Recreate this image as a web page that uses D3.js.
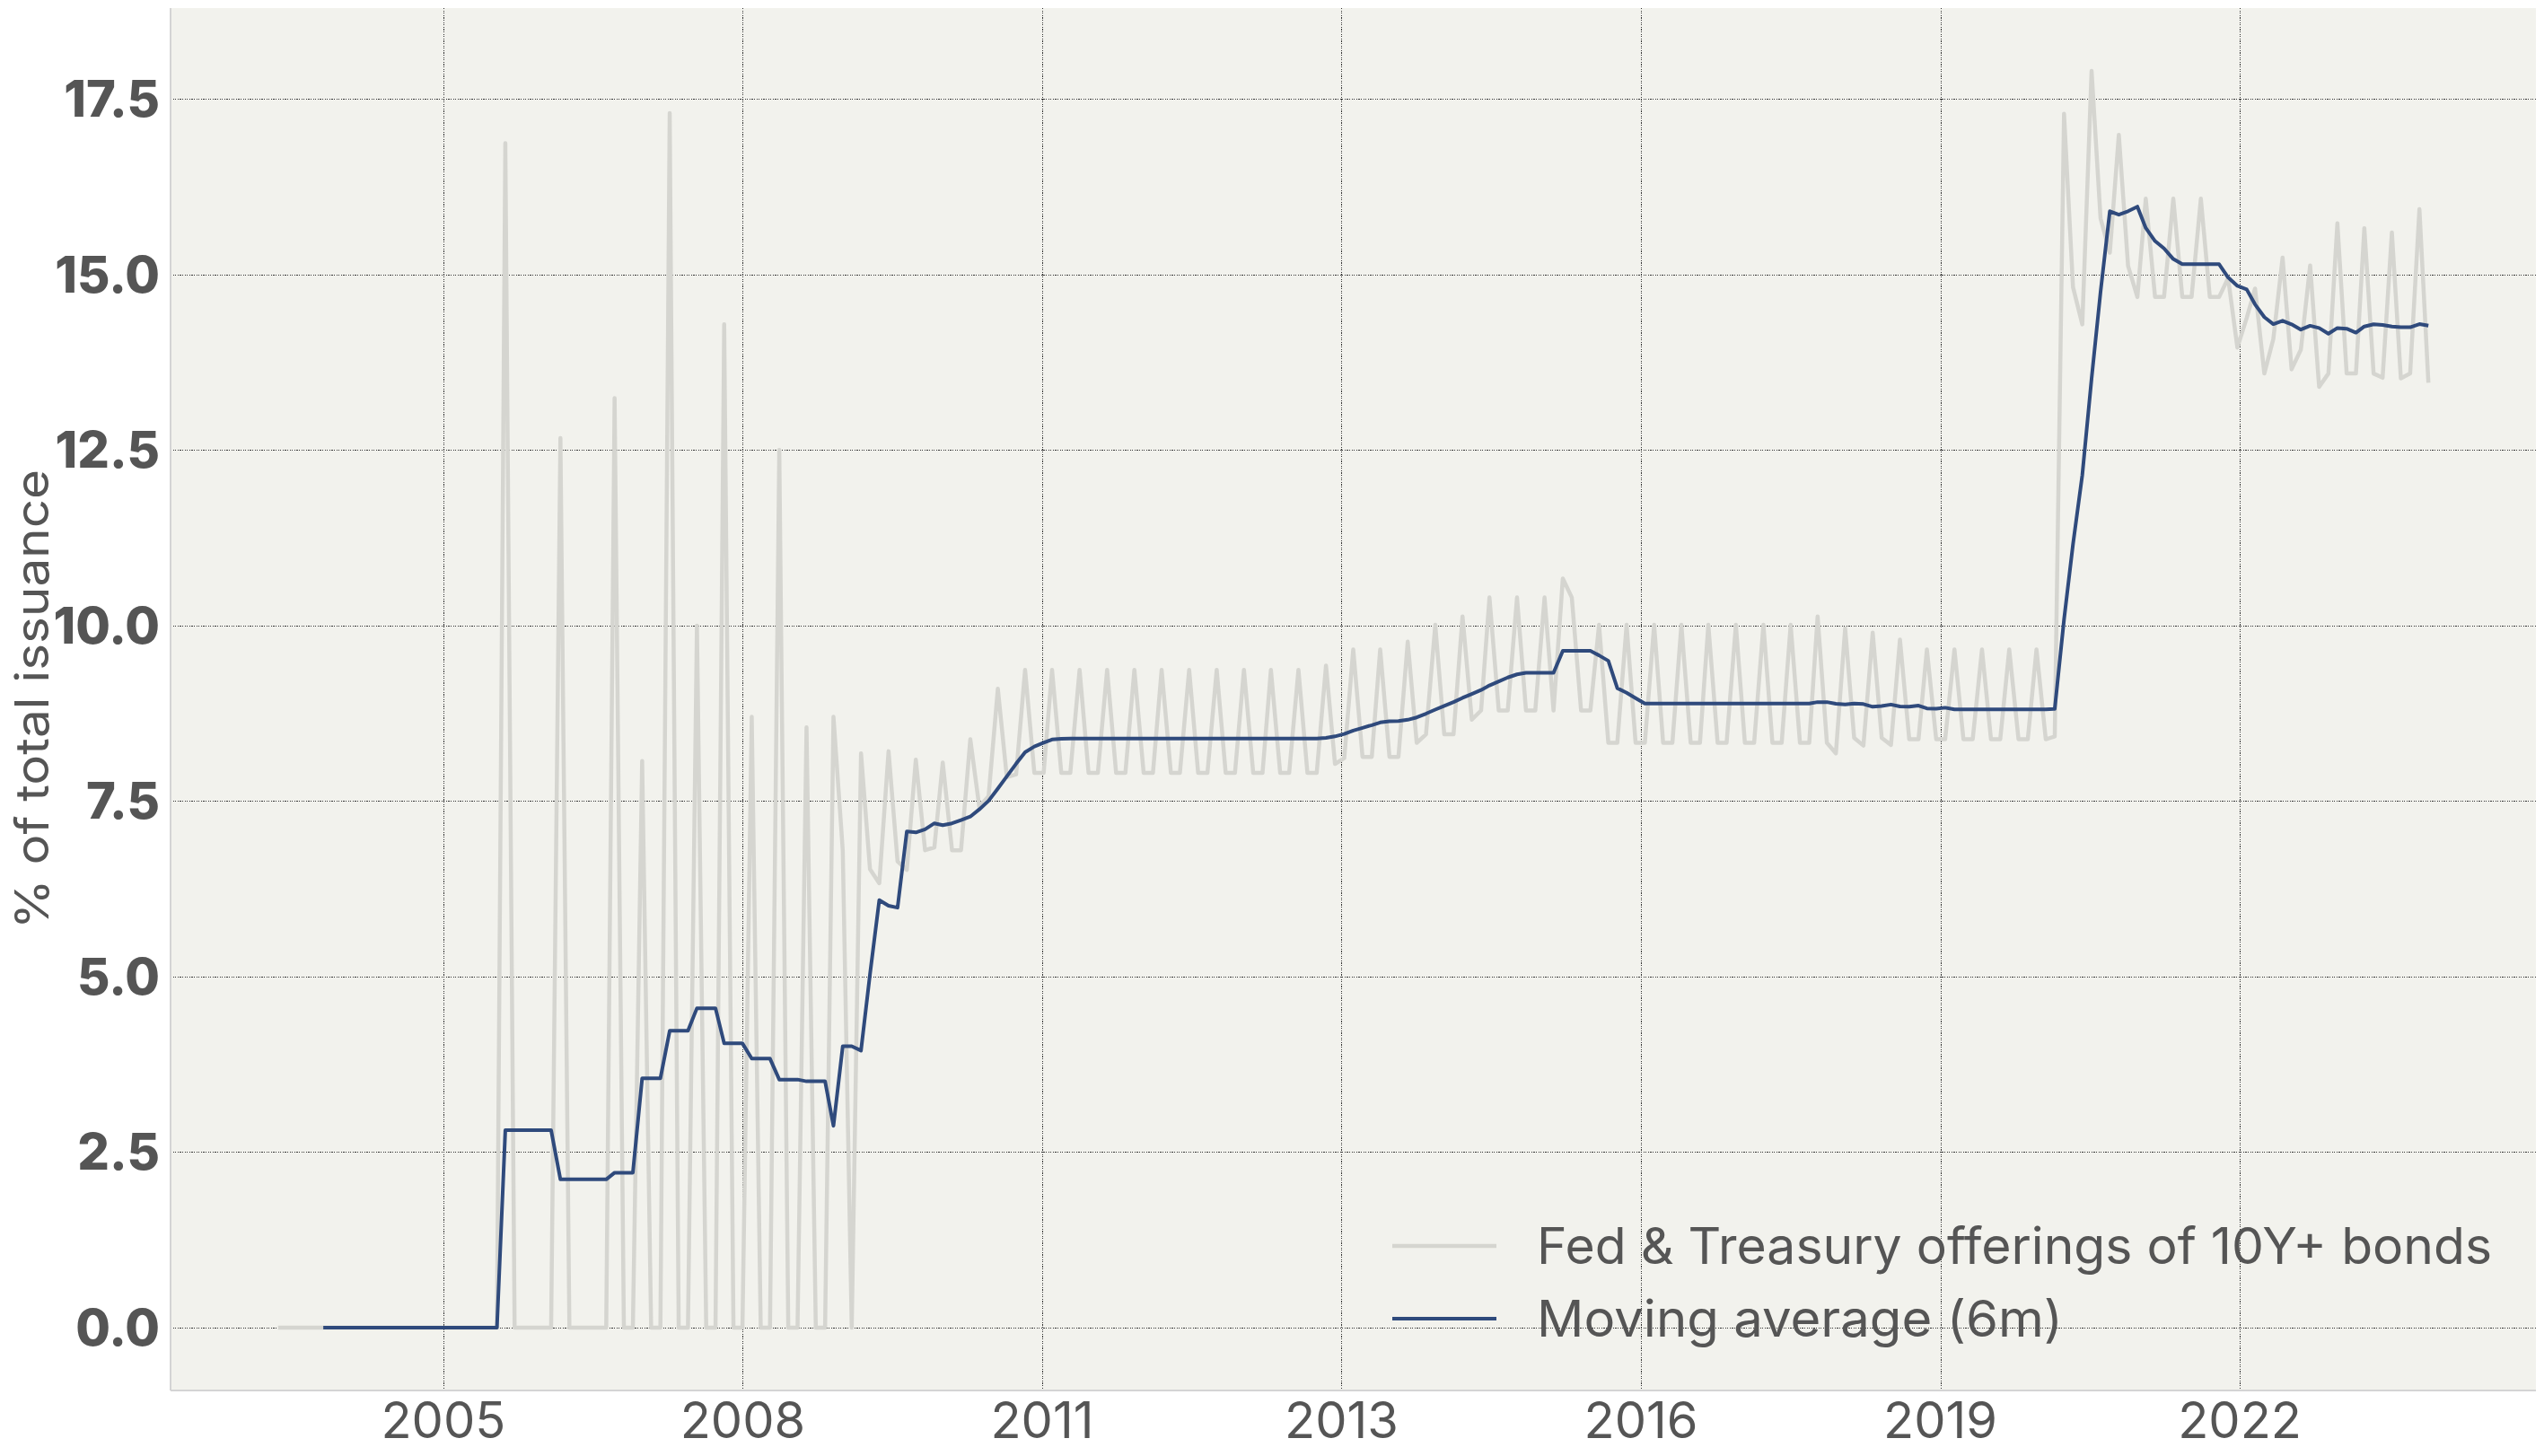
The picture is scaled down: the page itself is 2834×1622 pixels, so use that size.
<!DOCTYPE html>
<html><head><meta charset="utf-8">
<script src="https://cdn.jsdelivr.net/npm/d3@7"></script>
<style>html,body{margin:0;padding:0;background:#fff}</style>
</head><body><svg id="c" width="2834" height="1622"></svg>
<script>
// ---------------- data ----------------
const firstMonth = "2004-01";           // monthly observations, month-end dates
const offerings = [
  0,0,0,0,0,0,0,0,0,0,0,0,                                              // 2004
  0,0,0,0,0,0,0,0,0,0,0,0,                                              // 2005
  0,16.87,0,0,0,0,0,12.67,0,0,0,0,                                      // 2006
  0,13.24,0,0,8.07,0,0,17.30,0,0,10.00,0,                               // 2007
  0,14.29,0,0,8.70,0,0,12.50,0,0,8.55,0,                                // 2008
  0,8.70,6.80,0,8.18,6.53,6.33,8.21,6.64,6.52,8.09,6.80,                // 2009
  6.84,8.05,6.80,6.80,8.38,7.42,7.57,9.10,7.84,7.88,9.37,7.90,          // 2010
  7.90,9.37,7.90,7.90,9.37,7.90,7.90,9.37,7.90,7.90,9.37,7.90,          // 2011
  7.90,9.37,7.90,7.90,9.37,7.90,7.90,9.37,7.90,7.90,9.37,7.90,          // 2012
  7.90,9.37,7.90,7.90,9.37,7.90,7.90,9.43,8.03,8.11,9.66,8.13,          // 2013
  8.13,9.66,8.13,8.13,9.77,8.33,8.45,10.01,8.45,8.45,10.13,8.66,        // 2014
  8.79,10.40,8.79,8.79,10.40,8.79,8.79,10.40,8.79,10.67,10.40,8.79,     // 2015
  8.79,10.01,8.33,8.33,10.01,8.33,8.33,10.01,8.33,8.33,10.01,8.33,      // 2016
  8.33,10.01,8.33,8.33,10.01,8.33,8.33,10.01,8.33,8.33,10.01,8.33,      // 2017
  8.33,10.13,8.33,8.18,9.96,8.40,8.29,9.90,8.40,8.30,9.80,8.38,         // 2018
  8.38,9.66,8.38,8.38,9.66,8.38,8.38,9.66,8.38,8.38,9.66,8.38,          // 2019
  8.38,9.66,8.38,8.42,17.29,14.82,14.29,17.90,15.80,15.31,16.99,15.12,  // 2020
  14.68,16.08,14.68,14.68,16.08,14.68,14.68,16.08,14.68,14.68,14.95,13.96, // 2021
  14.38,14.80,13.59,14.08,15.24,13.65,13.93,15.13,13.40,13.59,15.73,13.59, // 2022
  13.59,15.66,13.59,13.53,15.60,13.52,13.59,15.93,13.46                 // 2023
];
const seriesNames = ["Fed & Treasury offerings of 10Y+ bonds", "Moving average (6m)"];
const maWindow = 6;
const yTicks = [0, 2.5, 5, 7.5, 10, 12.5, 15, 17.5];
const xTickDays = [13000, 14000, 15000, 16000, 17000, 18000, 19000]; // days since 1970-01-01
const xTickLabels = ["2005", "2008", "2011", "2013", "2016", "2019", "2022"];
const yLabel = "% of total issuance";

// ---------------- layout / style ----------------
const plot = {left: 190, right: 2825, top: 9, bottom: 1549};
const FONT = "Inter, 'Noto Sans', 'DejaVu Sans', sans-serif";
const TXT = "#555555";
const FS = 56;

const start = d3.utcParse("%Y-%m")(firstMonth);
const rows = offerings.map((v, i) => ({
  date: d3.utcDay.offset(d3.utcMonth.offset(start, i + 1), -1),
  v: v,
  ma: i < maWindow - 1 ? null : d3.mean(offerings.slice(i - maWindow + 1, i + 1))
}));

const ext = d3.extent(rows, d => d.date);
const padX = (ext[1] - ext[0]) * 0.05;
const x = d3.scaleUtc().domain([new Date(+ext[0] - padX), new Date(+ext[1] + padX)])
  .range([plot.left, plot.right]);
const ymin = 0, ymax = d3.max(offerings), padY = (ymax - ymin) * 0.05;
const y = d3.scaleLinear().domain([ymin - padY, ymax + padY]).range([plot.bottom, plot.top]);

const svg = d3.select("#c");
svg.append("rect").attr("x", 0).attr("y", 0).attr("width", 2834).attr("height", 1622).attr("fill", "#ffffff");
svg.append("rect").attr("x", plot.left).attr("y", plot.top)
  .attr("width", plot.right - plot.left).attr("height", plot.bottom - plot.top).attr("fill", "#f2f2ed");

// grid
const grid = svg.append("g").attr("stroke", "#333").attr("stroke-width", 1)
  .attr("stroke-dasharray", "1.2,1.4").attr("shape-rendering", "crispEdges");
grid.selectAll("line.h").data(yTicks).join("line").attr("class", "h")
  .attr("x1", plot.left).attr("x2", plot.right)
  .attr("y1", d => Math.round(y(d)) + 0.5).attr("y2", d => Math.round(y(d)) + 0.5);
const xTickDates = xTickDays.map(d => new Date(d * 86400000));
grid.selectAll("line.v").data(xTickDates).join("line").attr("class", "v")
  .attr("y1", plot.top).attr("y2", plot.bottom)
  .attr("x1", d => Math.round(x(d)) + 0.5).attr("x2", d => Math.round(x(d)) + 0.5);

// spines
svg.append("line").attr("x1", plot.left).attr("x2", plot.left).attr("y1", plot.top).attr("y2", plot.bottom)
  .attr("stroke", "#d4d4d4").attr("stroke-width", 2);
svg.append("line").attr("x1", plot.left).attr("x2", plot.right).attr("y1", plot.bottom).attr("y2", plot.bottom)
  .attr("stroke", "#d4d4d4").attr("stroke-width", 2);

// lines
const lineRaw = d3.line().x(d => x(d.date)).y(d => y(d.v));
const lineMa = d3.line().defined(d => d.ma !== null).x(d => x(d.date)).y(d => y(d.ma));
svg.append("path").datum(rows).attr("d", lineRaw).attr("fill", "none")
  .attr("stroke", "#d5d5d0").attr("stroke-width", 4.5).attr("stroke-linejoin", "round");
svg.append("path").datum(rows).attr("d", lineMa).attr("fill", "none")
  .attr("stroke", "#2f4a7c").attr("stroke-width", 4).attr("stroke-linejoin", "round");

// y tick labels
const fmt = d3.format(".1f");
svg.append("g").selectAll("text").data(yTicks).join("text")
  .attr("x", 178).attr("y", d => y(d) + 20).attr("text-anchor", "end")
  .attr("font-family", FONT).attr("font-size", FS).attr("font-weight", 800).attr("fill", TXT)
  .text(d => fmt(d));

// x tick labels
svg.append("g").selectAll("text").data(xTickDates).join("text")
  .attr("x", d => x(d)).attr("y", 1602).attr("text-anchor", "middle")
  .attr("font-family", FONT).attr("font-size", FS).attr("fill", TXT)
  .text((d, i) => xTickLabels[i]);

// y axis label
svg.append("text").attr("transform", `translate(54,${(plot.top + plot.bottom) / 2}) rotate(-90)`)
  .attr("text-anchor", "middle").attr("font-family", FONT).attr("font-size", 52).attr("fill", TXT)
  .attr("textLength", 512).attr("lengthAdjust", "spacingAndGlyphs")
  .text(yLabel);

// legend
const legend = svg.append("g");
const legendItems = [
  {name: seriesNames[0], color: "#d5d5d0", w: 4.5, y: 1388, len: 1064},
  {name: seriesNames[1], color: "#2f4a7c", w: 4, y: 1469, len: 586}
];
legendItems.forEach(it => {
  legend.append("line").attr("x1", 1551).attr("x2", 1667).attr("y1", it.y).attr("y2", it.y)
    .attr("stroke", it.color).attr("stroke-width", it.w);
  legend.append("text").attr("x", 1712).attr("y", it.y + 20)
    .attr("font-family", FONT).attr("font-size", FS).attr("fill", TXT)
    .attr("textLength", it.len).attr("lengthAdjust", "spacingAndGlyphs")
    .text(it.name);
});
</script>
</body></html>
